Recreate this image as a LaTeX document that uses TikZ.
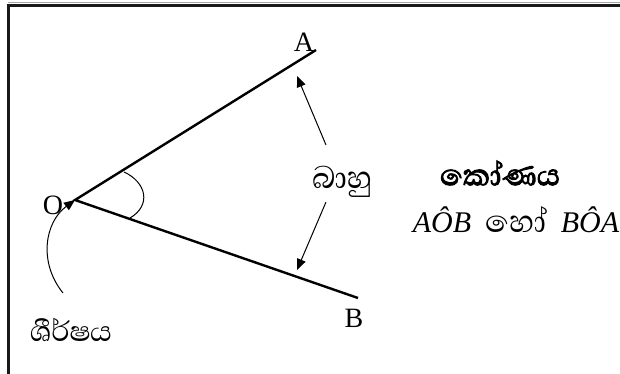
\documentclass[tikz,border=0pt]{standalone}
\usepackage{fontspec}
\setmainfont{Liberation Serif}
\newfontfamily\sinhala[Script=Sinhala]{Abhaya Libre}
\newfontfamily\sinhalabold[Script=Sinhala,FakeBold=2.5]{Abhaya Libre}
\usetikzlibrary{arrows.meta}
\tikzset{
  frame/.style={line width=1.4pt,black!90},
  arm/.style={line width=1.2pt,black},
  thin/.style={line width=0.5pt,black},
  tip/.style={-{Triangle[length=5.5pt,width=4.5pt]},line width=0.5pt,black},
  lbl/.style={font=\fontsize{14}{16}\selectfont,inner sep=0pt},
  si/.style={font=\sinhala\fontsize{20}{22}\selectfont,inner sep=0pt},
}
\begin{document}
\begin{tikzpicture}[x=0.5pt,y=-0.5pt]
  \useasboundingbox (0,0) rectangle (620,374);
  % frame (only top and left edges show)
  \draw[black!35,line width=0.5pt] (8,2.5) -- (620,2.5);
  \draw[frame] (620,5.5) -- (8.5,5.5) -- (8.5,374);
  % vertex and arms
  \coordinate (O) at (75,200);
  \coordinate (A) at (316,50);
  \coordinate (B) at (358,298);
  \draw[arm] (A) -- (O) -- (B);
  \coordinate (a1) at (124,172); \coordinate (a2) at (130,218);
  \draw[thin] (a1) .. controls (146,182) and (152,205) .. (a2);
  % labels
  \node[lbl] (lA) at (304,42) {A};
  \node[lbl] (lB) at (354,318) {B};
  \node[lbl] (lO) at (53,205) {O};
  \node[si] (arms) at (342,182) {බාහු};
  \node[si,font=\sinhalabold\fontsize{19}{21}\selectfont] (angle) at (500,173) {කෝණය};
  \node[lbl,font=\fontsize{15}{17}\selectfont] (names) at (516,220)
    {\textit{A\^{O}B}\hspace{7pt}{\sinhala\fontsize{20}{22}\selectfont හෝ}\hspace{7pt}\textit{B\^{O}A}};
  \node[si,font=\sinhala\fontsize{18}{20}\selectfont] (vertex) at (71,330) {ශීර්ෂය};
  % pointers
  \coordinate (u0) at (326,145); \coordinate (u1) at (297,76);
  \coordinate (d0) at (326,202); \coordinate (d1) at (297,270);
  \draw[tip] (u0) -- (u1);
  \draw[tip] (d0) -- (d1);
  \coordinate (s) at (63,293);
  \draw[tip] (s) .. controls (38,262) and (45,222) .. (O);
\end{tikzpicture}
\end{document}
